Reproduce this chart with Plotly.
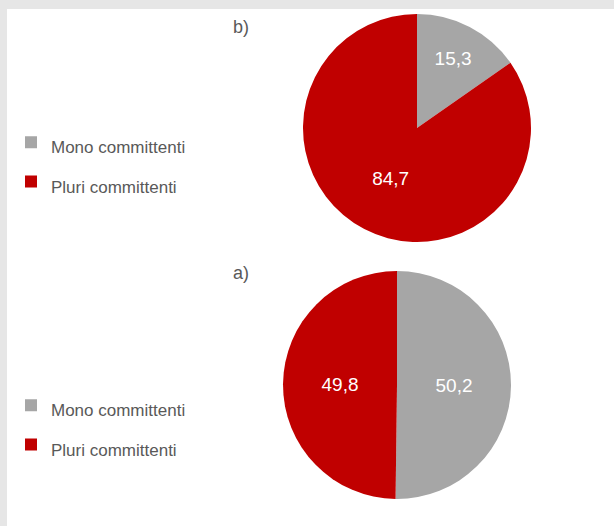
import plotly.graph_objects as go

categories = ["Mono committenti", "Pluri committenti"]
values_b = [15.3, 84.7]
values_a = [50.2, 49.8]
panel_titles = ["b)", "a)"]
colors = ["#a6a6a6", "#c00000"]

W, H = 614, 526
FONT = "Liberation Sans, Arial, sans-serif"

# slightly different markup so each panel keeps its own legend entries
labels_b = [f"<span style='font-size:17px'>{c}</span>" for c in categories]
labels_a = [f"<span style='font-size:17px;'>{c}</span>" for c in categories]


def px_dom(x0, x1, ytop, ybot):
    return dict(x=[x0 / W, x1 / W], y=[1 - ybot / H, 1 - ytop / H])


fig = go.Figure()
fig.add_trace(go.Pie(
    labels=labels_b, values=values_b, sort=False, direction="clockwise",
    rotation=0, marker=dict(colors=colors, line=dict(width=0)),
    texttemplate="%{value:.1f}", textposition="inside",
    insidetextfont=dict(color="white", size=19, family=FONT),
    domain=px_dom(303, 531, 14, 242), legend="legend", hoverinfo="label+value",
    insidetextorientation="horizontal",
))
fig.add_trace(go.Pie(
    labels=labels_a, values=values_a, sort=False, direction="clockwise",
    rotation=0, marker=dict(colors=colors, line=dict(width=0)),
    texttemplate="%{value:.1f}", textposition="inside",
    insidetextfont=dict(color="white", size=19, family=FONT),
    domain=px_dom(283, 511, 271, 499), legend="legend2", hoverinfo="label+value",
    insidetextorientation="horizontal",
))

leg_common = dict(font=dict(family=FONT, size=28, color="#595959"),
                  bgcolor="rgba(0,0,0,0)", xanchor="left", yanchor="middle",
                  traceorder="normal")
fig.update_layout(
    width=W, height=H, margin=dict(l=0, r=0, t=0, b=0),
    paper_bgcolor="#e6e6e6", separators=",.",
    font=dict(family=FONT, color="#595959"),
    showlegend=True,
    legend=dict(x=11 / W, y=1 - 162 / H, **leg_common),
    legend2=dict(x=11 / W, y=1 - 425 / H, **leg_common),
    shapes=[dict(type="rect", xref="paper", yref="paper", x0=7 / W, x1=1,
                 y0=0, y1=1 - 9 / H, fillcolor="white", line=dict(width=0),
                 layer="below")],
    annotations=[
        dict(text=panel_titles[0], x=241 / W, y=1 - 27 / H, xref="paper", yref="paper",
             xanchor="center", yanchor="middle",
             showarrow=False, font=dict(size=18, color="#595959", family=FONT)),
        dict(text=panel_titles[1], x=241 / W, y=1 - 273 / H, xref="paper", yref="paper",
             xanchor="center", yanchor="middle",
             showarrow=False, font=dict(size=18, color="#595959", family=FONT)),
    ],
)

fig.write_html("out.html", config={"displayModeBar": False},
               post_script="document.body.style.margin='0';document.body.style.overflow='hidden';")
